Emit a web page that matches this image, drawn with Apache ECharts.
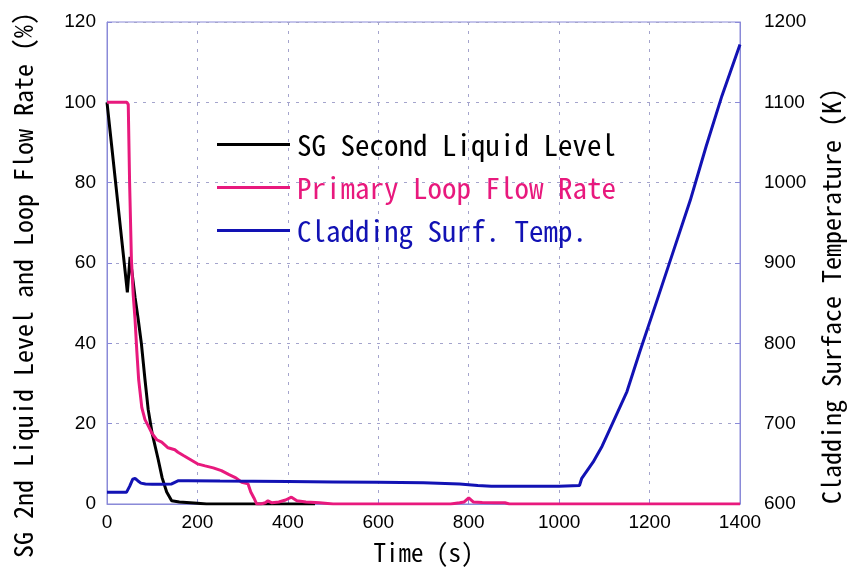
<!DOCTYPE html>
<html><head><meta charset="utf-8">
<script src="https://cdn.jsdelivr.net/npm/echarts@6/dist/echarts.min.js"></script>
<style>html,body{margin:0;padding:0;background:#fff}#c{width:853px;height:570px}</style>
</head><body><div id="c"></div>
<script>
// Time ticks
const xTicks = [0, 200, 400, 600, 800, 1000, 1200, 1400];
const leftTicks = [0, 20, 40, 60, 80, 100, 120];
const rightTicks = [600, 700, 800, 900, 1000, 1100, 1200];

// SG Second Liquid Level (%)
const sgTime  = [0, 10, 20, 30, 40, 45, 51, 56, 62, 69, 76, 84, 91, 100, 113, 122, 132, 143, 160, 200, 220, 300, 400, 460];
const sgLevel = [100, 89.5, 79, 68.5, 58, 52.7, 61.5, 57, 51.5, 46, 40, 31, 23.6, 17.5, 11.2, 6.5, 3, 0.8, 0.5, 0.2, 0, 0, 0, 0];

// Primary Loop Flow Rate (%)
const flowTime = [0, 44, 47, 50, 54, 58, 62, 66, 70, 77, 84, 91, 100, 110, 121, 135, 150, 157, 170, 185, 200, 217, 235, 253, 270, 285, 298, 312, 318, 325, 331, 340, 350, 356, 365, 380, 395, 408, 420, 440, 470, 500, 550, 760, 780, 790, 800, 810, 830, 860, 880, 890, 1400];
const flowRate = [100, 100, 99.5, 80, 61, 52, 46, 38, 31, 24, 21, 19.5, 17.5, 16, 15.4, 14, 13.5, 12.9, 12, 11, 10, 9.5, 9, 8.3, 7.3, 6.5, 5.4, 5, 3, 1.5, 0, 0, 0.3, 0.8, 0.3, 0.5, 1, 1.7, 0.8, 0.5, 0.3, 0, 0, 0, 0.3, 0.5, 1.5, 0.5, 0.4, 0.3, 0.3, 0, 0];

// Cladding Surface Temperature (K)
const cladTime = [0, 43, 50, 57, 62, 68, 75, 85, 100, 120, 143, 150, 158, 180, 250, 400, 500, 600, 700, 780, 820, 850, 900, 1000, 1045, 1050, 1060, 1075, 1095, 1112, 1150, 1178, 1215, 1251, 1290, 1325, 1360, 1400];
const cladTemp = [614.5, 614.5, 622, 631, 632, 629, 626, 625, 624.5, 624.5, 625, 627, 629, 629, 628.5, 628, 627.5, 627, 626.5, 625, 623, 622, 622, 622, 623, 632, 640, 652, 672, 693, 740, 789, 851, 912, 978, 1045, 1108, 1172];

const seriesNames = ['SG Second Liquid Level', 'Primary Loop Flow Rate', 'Cladding Surf. Temp.'];
const colors = ['#000000', '#e8197d', '#1212b4'];

const zip = (a, b) => a.map((t, i) => [t, b[i]]);
const monoFont = "'Noto Sans Mono CJK JP', 'Noto Sans CJK JP', monospace";
const numFont = "'Liberation Sans', Arial, sans-serif";
const frame = '#8a8ad8';
const plain = v => String(v);

const chart = echarts.init(document.getElementById('c'), null, {renderer: 'canvas'});
chart.setOption({
  backgroundColor: '#ffffff',
  animation: false,
  grid: {left: 107, right: 113, top: 22, bottom: 65, show: true, borderColor: frame, borderWidth: 1},
  legend: {
    orient: 'vertical', left: 217, top: 130, padding: 0,
    icon: 'rect', itemWidth: 73, itemHeight: 3, itemGap: 14,
    data: seriesNames.map((n, i) => ({name: n, textStyle: {color: colors[i]}})),
    textStyle: {fontFamily: monoFont, fontSize: 29, padding: [0, 0, 0, 2]}
  },
  xAxis: {
    type: 'value', min: xTicks[0], max: xTicks[xTicks.length - 1], interval: 200,
    name: 'Time (s)', nameLocation: 'middle', nameGap: 36,
    nameTextStyle: {fontFamily: monoFont, fontSize: 25, color: '#000'},
    axisLine: {show: true, lineStyle: {color: frame}},
    axisTick: {show: true, inside: true, length: 5, lineStyle: {color: frame}},
    axisLabel: {fontFamily: numFont, fontSize: 19, color: '#000', margin: 9, formatter: plain},
    splitLine: {show: true, lineStyle: {type: [3, 6], color: '#a4a4cc'}}
  },
  yAxis: [{
    type: 'value', min: leftTicks[0], max: leftTicks[leftTicks.length - 1], interval: 20,
    axisLine: {show: true, lineStyle: {color: frame}},
    axisTick: {show: true, inside: true, length: 5, lineStyle: {color: frame}},
    axisLabel: {fontFamily: numFont, fontSize: 19, color: '#000', margin: 11, formatter: plain},
    splitLine: {show: true, lineStyle: {type: [3, 6], color: '#a4a4cc'}}
  }, {
    type: 'value', position: 'right', min: rightTicks[0], max: rightTicks[rightTicks.length - 1], interval: 100,
    axisLine: {show: true, lineStyle: {color: frame}},
    axisTick: {show: true, inside: true, length: 5, lineStyle: {color: frame}},
    axisLabel: {fontFamily: numFont, fontSize: 19, color: '#000', margin: 24, formatter: plain},
    splitLine: {show: false}
  }],
  graphic: [
    {type: 'text', x: 23, y: 285, rotation: Math.PI / 2,
     style: {text: 'SG 2nd Liquid Level and Loop Flow Rate (%)', font: "26px " + monoFont, fill: '#000', textAlign: 'center', textVerticalAlign: 'middle'}},
    {type: 'text', x: 831, y: 296, rotation: Math.PI / 2,
     style: {text: 'Cladding Surface Temperature (K)', font: "26px " + monoFont, fill: '#000', textAlign: 'center', textVerticalAlign: 'middle'}}
  ],
  series: [
    {name: seriesNames[0], type: 'line', data: zip(sgTime, sgLevel), symbol: 'none', lineStyle: {color: colors[0], width: 3}, itemStyle: {color: colors[0]}, z: 3},
    {name: seriesNames[1], type: 'line', data: zip(flowTime, flowRate), symbol: 'none', lineStyle: {color: colors[1], width: 3}, itemStyle: {color: colors[1]}, z: 4},
    {name: seriesNames[2], type: 'line', yAxisIndex: 1, data: zip(cladTime, cladTemp), symbol: 'none', lineStyle: {color: colors[2], width: 3}, itemStyle: {color: colors[2]}, z: 5}
  ]
});
</script></body></html>
